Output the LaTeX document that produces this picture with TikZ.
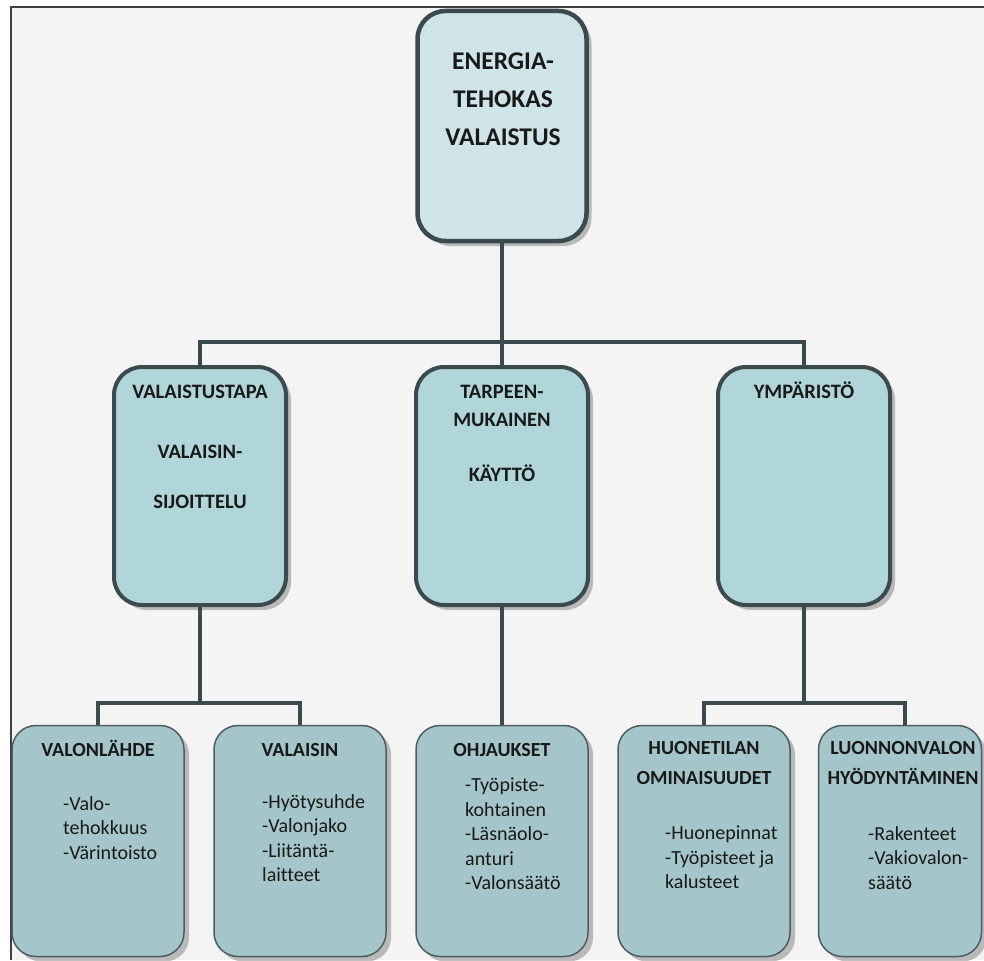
\documentclass[tikz,border=0pt]{standalone}
\usepackage{fontspec}
\setmainfont[Ligatures={NoCommon}]{Carlito}
\usetikzlibrary{shadows,calc}

\definecolor{reuna}{HTML}{3B4A4D}
\definecolor{tausta}{HTML}{F4F4F4}
\definecolor{ylatayte}{HTML}{CFE4E7}
\definecolor{keskitayte}{HTML}{B1D6DA}
\definecolor{alatayte}{HTML}{A4C6CA}

\tikzset{
  varjo/.style={drop shadow={shadow xshift=5pt, shadow yshift=-5pt, opacity=0.35, fill=black!70}},
  paalaatikko/.style={draw=reuna, line width=4.5pt, fill=ylatayte, rounded corners=28pt,
    minimum width=169pt, minimum height=230pt, varjo},
  keskilaatikko/.style={draw=reuna, line width=4pt, fill=keskitayte, rounded corners=28pt,
    minimum width=172pt, minimum height=238pt, varjo},
  alalaatikko/.style={draw=reuna!90, line width=1.5pt, fill=alatayte, rounded corners=24pt,
    minimum width=172pt, minimum height=231pt, varjo},
  yhteys/.style={draw=reuna, line width=4pt},
  otsikko/.style={font=\bfseries\fontsize{20}{30}\selectfont, align=center, anchor=north,
    inner sep=0pt, text=black!90},
  teksti/.style={font=\fontsize{20}{24.5}\selectfont, align=left, anchor=north west,
    inner sep=0pt, text=black!90},
}

\begin{document}
\begin{tikzpicture}[x=1pt,y=-1pt]
	\useasboundingbox (0,0) rectangle (984,960);
	% tausta ja kehys
	\fill[white] (0,0) rectangle (984,960);
	\fill[tausta] (11,7) rectangle (984,960);
	\draw[line width=2.5pt, black!75] (11,960) -- (11,7) -- (984,7);

	% laatikot
	\node[paalaatikko] (valaistus) at (502,126) {};
	\node[keskilaatikko] (tapa) at (200,486) {};
	\node[keskilaatikko] (kaytto) at (502,486) {};
	\node[keskilaatikko] (ymparisto) at (804,486) {};
	\node[alalaatikko] (lahde) at (98,841) {};
	\node[alalaatikko] (valaisin) at (300,841) {};
	\node[alalaatikko] (ohjaus) at (502,841) {};
	\node[alalaatikko] (huone) at (704,841) {};
	\node[alalaatikko, minimum width=163pt] (luonto) at (900,841) {};

	% yhteydet
	\coordinate (jako1) at (502,342);
	\coordinate (jako2) at (200,703);
	\coordinate (jako3) at (804,703);
	\draw[yhteys] (valaistus.south) -- (jako1);
	\draw[yhteys] (tapa.north) |- (jako1) -| (ymparisto.north);
	\draw[yhteys] (jako1) -- (kaytto.north);
	\draw[yhteys] (tapa.south) -- (jako2);
	\draw[yhteys] (lahde.north) |- (jako2) -| (valaisin.north);
	\draw[yhteys] (kaytto.south) -- (ohjaus.north);
	\draw[yhteys] (ymparisto.south) -- (jako3);
	\draw[yhteys] (huone.north) |- (jako3) -| ([xshift=5pt]luonto.north);

	% tekstit
	\node[otsikko, font=\bfseries\fontsize{25.5}{38}\selectfont] (t-valaistus) at (503,53)
		{ENERGIA-\\TEHOKAS\\VALAISTUS};
	\node[otsikko, font=\bfseries\fontsize{20.5}{28}\selectfont] (t-tapa) at (200,385)
		{VALAISTUSTAPA\\[32pt]VALAISIN-\\[22pt]SIJOITTELU};
	\node[otsikko, font=\bfseries\fontsize{20.5}{28}\selectfont] (t-kaytto) at (502,385)
		{TARPEEN-\\MUKAINEN\\[27pt]KÄYTTÖ};
	\node[otsikko, font=\bfseries\fontsize{20.5}{28}\selectfont] (t-ymparisto) at (804,382)
		{YMPÄRISTÖ};
	\node[otsikko] (t-lahde) at (98,740) {VALONLÄHDE};
	\node[otsikko] (t-valaisin) at (300,743) {VALAISIN};
	\node[otsikko] (t-ohjaus) at (502,743) {OHJAUKSET};
	\node[otsikko] (t-huone) at (704,741) {HUONETILAN\\OMINAISUUDET};
	\node[otsikko] (t-luonto) at (903,741) {LUONNONVALON\\HYÖDYNTÄMINEN};
	\node[teksti] (s-lahde) at (63,796) {-Valo-\\tehokkuus\\-Värintoisto};
	\node[teksti] (s-valaisin) at (262,794) {-Hyötysuhde\\-Valonjako\\-Liitäntä-\\laitteet};
	\node[teksti] (s-ohjaus) at (465,778)
		{-Työpiste-\\kohtainen\\-Läsnäolo-\\anturi\\-Valonsäätö};
	\node[teksti] (s-huone) at (665,826) {-Huonepinnat\\-Työpisteet ja\\kalusteet};
	\node[teksti] (s-luonto) at (868,826) {-Rakenteet\\-Vakiovalon-\\säätö};
\end{tikzpicture}
\end{document}
